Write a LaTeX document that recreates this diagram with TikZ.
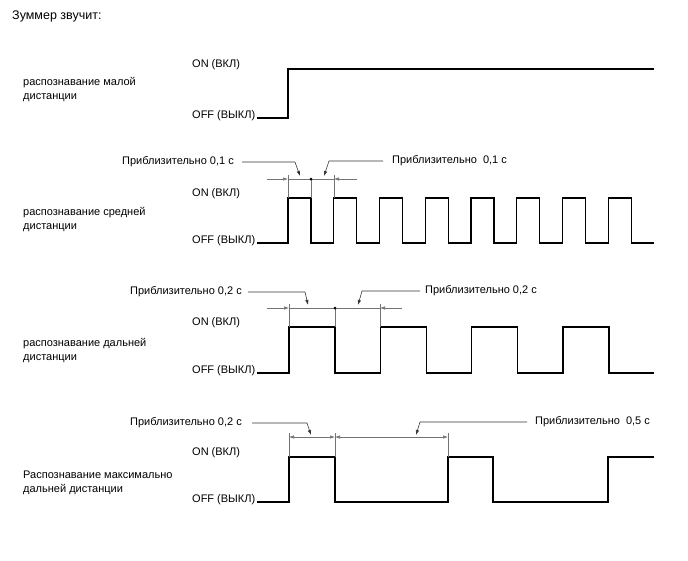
\documentclass[tikz,border=0pt]{standalone}
\usepackage{fontspec}
\setmainfont{Liberation Sans}
\usetikzlibrary{arrows.meta}

\begin{document}
\begin{tikzpicture}[x=1pt, y=-1pt,
    txt/.style = {inner sep=0pt, anchor=west, align=left, font=\fontsize{11}{14}\selectfont},
    wave/.style = {line width=1.2pt},
    dim/.style = {draw=black!55, line width=0.6pt},
    tip/.style = {-{Latex[length=5pt,width=3.5pt]}},
    lead/.style = {draw=black!80, line width=0.6pt, tip}]
    \useasboundingbox (0,0) rectangle (688,560);

    \node[txt, font=\fontsize{12.5}{14}\selectfont] (title) at (12,16) {Зуммер звучит:};

    \foreach \on/\off/\ly/\nm/\lbl in {69/118/90/near/{распознавание малой\\дистанции},
                                       198/243/220/mid/{распознавание средней\\дистанции},
                                       327/373/351/far/{распознавание дальней\\дистанции},
                                       457/502/483/max/{Распознавание максимально\\дальней дистанции}} {
        \node[txt] (on\nm) at (192,\on-4) {ON (ВКЛ)};
        \node[txt] (off\nm) at (192,\off-2) {OFF (ВЫКЛ)};
        \node[txt] (lbl\nm) at (23,\ly) {\lbl};
    }

    \draw[wave] (257,118) -- (288,118) -- (288,69) -- (654,69);
    \draw[wave] (257,243) \foreach \k in {0,...,7} { -- ({288+45.75*\k},243) -- ++(0,-45) -- ++(23,0) -- ++(0,45) } -- (654,243);
    \draw[wave] (257,373) \foreach \k in {0,...,3} { -- ({289+91.3*\k},373) -- ++(0,-46) -- ++(46,0) -- ++(0,46) } -- (654,373);
    \draw[wave] (257,502) -- (289,502) -- (289,457) -- (335,457) -- (335,502) -- (448,502) -- (448,457)
        -- (493,457) -- (493,502) -- (608,502) -- (608,457) -- (654,457);

    \coordinate (m1) at (288,179);
    \coordinate (m2) at (311,179);
    \coordinate (m3) at (334,179);
    \draw[dim] (288,175) -- (288,198) (311,179) -- (311,198) (334,175) -- (334,198);
    \draw[dim, tip] (267,179) -- (m1);
    \draw[dim] (m1) -- (m3);
    \draw[dim, tip] (357,179) -- (m3);
    \fill (m2) circle (1.5pt);

    \coordinate (f1) at (289,308);
    \coordinate (f2) at (335,308);
    \coordinate (f3) at (380,308);
    \draw[dim] (289,304) -- (289,327) (335,308) -- (335,327) (380,304) -- (380,327);
    \draw[dim, tip] (267,308) -- (f1);
    \draw[dim] (f1) -- (f3);
    \draw[dim, tip] (402,308) -- (f3);
    \fill (f2) circle (1.5pt);

    \coordinate (x1) at (289,437);
    \coordinate (x2) at (335,437);
    \coordinate (x3) at (448,437);
    \draw[dim] (289,433) -- (289,457) (335,433) -- (335,457) (448,433) -- (448,457);
    \draw[dim, {Latex[length=5pt,width=3.5pt]}-{Latex[length=5pt,width=3.5pt]}] (x1) -- (x2);
    \draw[dim, {Latex[length=5pt,width=3.5pt]}-{Latex[length=5pt,width=3.5pt]}] (x2) -- (x3);

    \node[txt, anchor=east] (ap1) at (234,162) {Приблизительно 0,1 с};
    \node[txt] (ap2) at (392,161) {Приблизительно\ \ 0,1 с};
    \node[txt, anchor=east] (ap3) at (242,292) {Приблизительно 0,2 с};
    \node[txt] (ap4) at (425,291) {Приблизительно 0,2 с};
    \node[txt, anchor=east] (ap5) at (242,423) {Приблизительно 0,2 с};
    \node[txt] (ap6) at (535,422) {Приблизительно\ \ 0,5 с};

    \coordinate (t1) at (300,176);
    \coordinate (t2) at (324,176);
    \coordinate (t3) at (308,305);
    \coordinate (t4) at (358,305);
    \coordinate (t5) at (311,435);
    \coordinate (t6) at (416,435);

    \draw[lead] ([xshift=8pt]ap1.east) -- ++(53,0) -- (t1);
    \draw[lead] ([xshift=-9pt]ap2.west) -- ++(-54,0) -- (t2);
    \draw[lead] ([xshift=6pt]ap3.east) -- ++(57,0) -- (t3);
    \draw[lead] ([xshift=-5pt]ap4.west) -- ++(-58,0) -- (t4);
    \draw[lead] ([xshift=10pt]ap5.east) -- ++(55,0) -- (t5);
    \draw[lead] ([xshift=-8pt]ap6.west) -- ++(-107,0) -- (t6);
\end{tikzpicture}
\end{document}
